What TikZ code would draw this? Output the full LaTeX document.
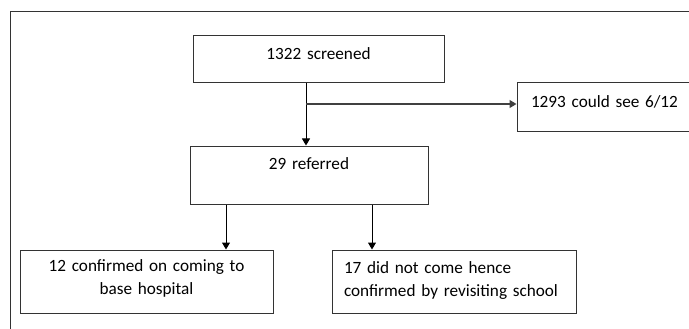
\documentclass[tikz,border=0pt]{standalone}
\usepackage{fontspec}
\setmainfont{Carlito}
\usepackage{tikz}
\usetikzlibrary{arrows.meta}

\begin{document}
\begin{tikzpicture}[x=1pt,y=-1pt,
    box/.style={draw=black!80,line width=1pt,inner sep=0pt,
      font=\fontsize{17.2}{23.5}\selectfont},
    >={Triangle[length=7pt,width=8pt]}]
      \useasboundingbox (0,0) rectangle (689,329);
      \clip (0,0) rectangle (689,329);
      \draw [black!80,line width=1pt] (10,12) rectangle (700,340);
      \node (screened) at (318.5,59.5) [box,text width=251pt,align=center,text height=24pt,text depth=23pt] {1322 screened};
      \node (see) at (608.5,107.5) [box,text width=155pt,inner xsep=14pt,align=left,text height=24pt,text depth=25pt] {1293 could see 6/12};
      \node (referred) at (309,175) [box,text width=238pt,align=center,text height=23pt,text depth=35pt] {29 referred};
      \node (base) at (146.5,281.5) [box,text width=253pt,align=center,text height=21pt,text depth=42pt] {12 confirmed on coming to\\base hospital};
      \node (school) at (454,281.5) [box,text width=220pt,inner xsep=12pt,align=left,text height=23pt,text depth=40pt] {17 did not come hence\\confirmed by revisiting school};
      \coordinate (split) at (306,104);
      \draw [->,line width=1pt](screened.south -| split)--(referred.north -| split);
      \draw [->,black!75,line width=1.3pt](split)--(see.west |- split);
      \coordinate (left) at ([xshift=-83pt]referred.south);
      \coordinate (right) at ([xshift=63pt]referred.south);
      \draw [->,line width=1pt](left)--(left |- base.north);
      \draw [->,line width=1pt](right)--(right |- school.north);
    \end{tikzpicture}
\end{document}
